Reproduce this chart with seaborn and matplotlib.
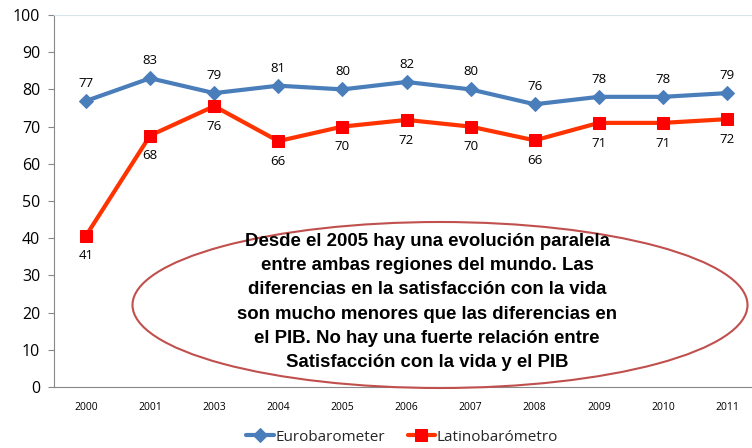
import matplotlib
matplotlib.use("Agg")
import matplotlib.pyplot as plt
from matplotlib.patches import Ellipse
import seaborn as sns
import pandas as pd
import numpy as np

years = ["2000", "2001", "2003", "2004", "2005", "2006", "2007", "2008", "2009", "2010", "2011"]
euro = [76.9, 83.0, 79.0, 81.0, 80.0, 82.0, 80.0, 76.0, 78.0, 78.0, 79.0]
latino = [40.7, 67.6, 75.5, 66.1, 70.0, 71.8, 70.0, 66.3, 71.0, 71.0, 72.0]
euro_labels = ["77", "83", "79", "81", "80", "82", "80", "76", "78", "78", "79"]
latino_labels = ["41", "68", "76", "66", "70", "72", "70", "66", "71", "71", "72"]

note = ("Desde el 2005 hay una evolución paralela\n"
        "entre ambas regiones del mundo. Las\n"
        "diferencias en la satisfacción con la vida\n"
        "son mucho menores que las diferencias en\n"
        "el PIB. No hay una fuerte relación entre\n"
        "Satisfacción con la vida y el PIB")

sns.set_style("white")
plt.rcParams['font.family'] = ['Open Sans', 'DejaVu Sans']

fig = plt.figure(figsize=(7.52, 4.48), dpi=100)
ax = fig.add_axes([54 / 752, 1 - 387 / 448, 705 / 752, 372 / 448])

df = pd.DataFrame({"pos": np.arange(len(years)), "euro": euro, "latino": latino})

blue = "#4A7EBB"
red = "#FF3300"
sns.lineplot(data=df, x="pos", y="euro", ax=ax, color=blue, lw=3, marker="D",
             markersize=7, markeredgecolor=blue, label="Eurobarometer")
sns.lineplot(data=df, x="pos", y="latino", ax=ax, color=red, lw=3, marker="s",
             markersize=9, markerfacecolor="#FF0000", markeredgecolor="#FF0000",
             label="Latinobarómetro")

for i in range(len(years)):
    ax.annotate(euro_labels[i], (i, euro[i]), xytext=(0, 8), textcoords="offset points",
                ha="center", va="bottom", fontsize=9.5, color="black")
    ax.annotate(latino_labels[i], (i, latino[i]), xytext=(0, -10), textcoords="offset points",
                ha="center", va="top", fontsize=9.5, color="black")

ax.set_xlim(-0.5, len(years) - 0.5)
ax.set_ylim(0, 100)
ax.set_yticks(range(0, 101, 10))
ax.set_yticklabels([str(v) for v in range(0, 101, 10)], fontsize=11.5)
ax.set_xticks(range(len(years)))
ax.set_xticklabels(years, fontsize=7.5)
ax.set_xticks(np.arange(-0.5, len(years), 1), minor=True)
ax.tick_params(axis="x", which="major", length=0, pad=11, colors="black")
ax.tick_params(axis="x", which="minor", length=4, color="#888888", direction="out")
ax.tick_params(axis="y", length=4, color="#888888", labelcolor="black", direction="out",
               left=True, pad=6)
ax.set_xlabel("")
ax.set_ylabel("")

ax.spines["right"].set_visible(False)
ax.spines["top"].set_color("#D7E4EC")
ax.spines["left"].set_color("#888888")
ax.spines["bottom"].set_color("#888888")

# callout ellipse, placed in figure pixels from the top-left
ell = Ellipse((440 / 752, 1 - 305 / 448), 615 / 752, 166 / 448, transform=fig.transFigure,
              fill=False, edgecolor="#C0504D", lw=1.5)
fig.patches.append(ell)
fig.text(427 / 752, 1 - 302 / 448, note, ha="center", va="center", fontsize=13.4,
         fontweight="bold", linespacing=1.56, family=["Liberation Sans", "DejaVu Sans"],
         color="black")

leg = ax.legend(loc="center", bbox_to_anchor=(402 / 752, 1 - 437 / 448),
                bbox_transform=fig.transFigure, ncol=2, frameon=False, fontsize=11,
                handlelength=1.8, handletextpad=0.1, columnspacing=1.5)

fig.savefig("out.png", dpi=100)
